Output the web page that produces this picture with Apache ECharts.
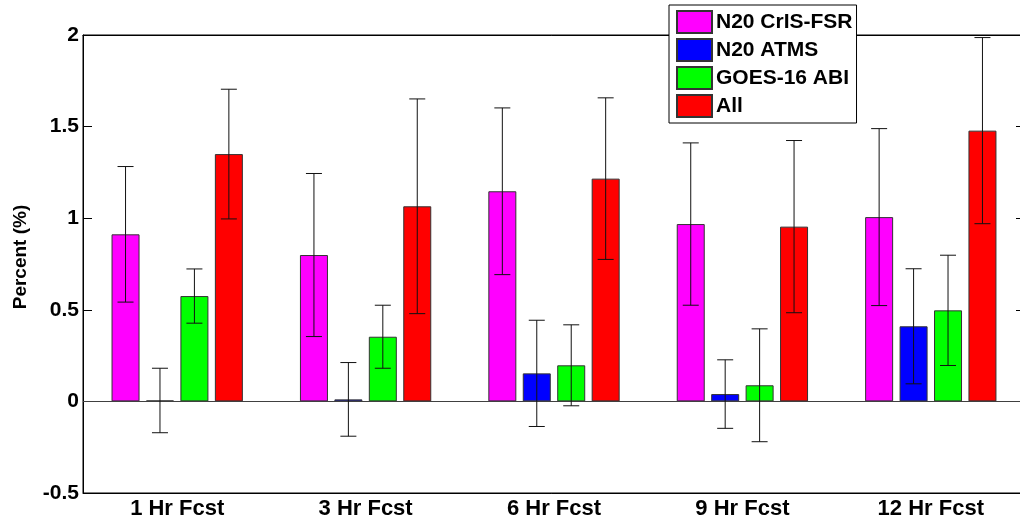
<!DOCTYPE html>
<html>
<head>
<meta charset="utf-8">
<script src="https://cdn.jsdelivr.net/npm/echarts@6/dist/echarts.min.js"></script>
<style>html,body{margin:0;padding:0;background:#fff}#c{width:1020px;height:523px}</style>
</head>
<body>
<div id="c"></div>
<script>
const categories = ['1 Hr Fcst', '3 Hr Fcst', '6 Hr Fcst', '9 Hr Fcst', '12 Hr Fcst'];
const seriesNames = ['N20 CrIS-FSR', 'N20 ATMS', 'GOES-16 ABI', 'All'];
const crisVals  = [0.912, 0.799, 1.147, 0.968, 1.006];
const crisErr   = [0.370, 0.445, 0.455, 0.443, 0.483];
const atmsVals  = [0.005, 0.011, 0.153, 0.040, 0.410];
const atmsErr   = [0.176, 0.201, 0.290, 0.187, 0.314];
const abiVals   = [0.575, 0.353, 0.197, 0.088, 0.497];
const abiErr    = [0.148, 0.172, 0.221, 0.308, 0.301];
const allVals   = [1.350, 1.065, 1.216, 0.954, 1.478];
const allErr    = [0.354, 0.586, 0.441, 0.470, 0.508];
const yTicks = [-0.5, 0, 0.5, 1, 1.5, 2];

const colors = ['#ff00ff', '#0000ff', '#00ff00', '#ff0000'];
const values = [crisVals, atmsVals, abiVals, allVals];
const errs = [crisErr, atmsErr, abiErr, allErr];

const BAR_W = 28;
const GAP = 0.23;
const FONT = 'Arial, "Liberation Sans", Helvetica, sans-serif';

const errData = [];
values.forEach((vals, s) => {
  vals.forEach((v, i) => {
    errData.push([i, s, v - errs[s][i], v + errs[s][i]]);
  });
});

const chart = echarts.init(document.getElementById('c'), null, {renderer: 'canvas'});

const barSeries = seriesNames.map((name, s) => ({
  name: name,
  type: 'bar',
  xAxisIndex: 0,
  yAxisIndex: 0,
  barWidth: BAR_W,
  barGap: (GAP * 100) + '%',
  data: values[s],
  itemStyle: {color: colors[s], borderColor: '#333', borderWidth: 1},
  emphasis: {disabled: true},
  markLine: s === 0 ? {
    silent: true,
    symbol: ['none', 'none'],
    label: {show: false},
    lineStyle: {color: '#404040', width: 1, type: 'solid'},
    data: [{yAxis: 0}]
  } : undefined
}));

const option = {
  animation: false,
  backgroundColor: '#fff',
  grid: {left: 83, top: 35, width: 942, height: 458, outerBoundsMode: 'none', containLabel: false, show: true, borderColor: '#000', borderWidth: 1, backgroundColor: 'transparent'},
  legend: {
    data: seriesNames,
    orient: 'vertical',
    left: 669,
    top: 5,
    itemWidth: 35,
    itemHeight: 22,
    itemGap: 4,
    padding: [5, 4, 5, 7],
    backgroundColor: '#fff',
    borderColor: '#000',
    borderWidth: 1,
    icon: 'rect',
    selectedMode: false,
    textStyle: {fontFamily: FONT, fontWeight: 'bold', fontSize: 21, color: '#000', padding: [0, 0, 0, -1]}
  },
  xAxis: [
    {
      type: 'category',
      data: categories,
      position: 'bottom',
      axisLine: {onZero: false, lineStyle: {color: '#000', width: 1}},
      axisTick: {inside: true, alignWithLabel: true, length: 9, lineStyle: {color: '#000'}},
      axisLabel: {fontFamily: FONT, fontWeight: 'bold', fontSize: 22, color: '#000', margin: 5},
      splitLine: {show: false}
    },
    {
      type: 'category',
      data: categories,
      position: 'top',
      axisLine: {onZero: false, lineStyle: {color: '#000', width: 1}},
      axisTick: {inside: true, alignWithLabel: true, length: 9, lineStyle: {color: '#000'}},
      axisLabel: {show: false},
      splitLine: {show: false}
    }
  ],
  yAxis: [
    {
      type: 'value',
      min: yTicks[0],
      max: yTicks[yTicks.length - 1],
      interval: 0.5,
      position: 'left',
      axisLine: {show: true, onZero: false, lineStyle: {color: '#000', width: 1}},
      axisTick: {show: true, inside: true, length: 9, lineStyle: {color: '#000'}},
      axisLabel: {fontFamily: FONT, fontWeight: 'bold', fontSize: 21, color: '#000', margin: 4},
      splitLine: {show: false}
    },
    {
      type: 'value',
      min: yTicks[0],
      max: yTicks[yTicks.length - 1],
      interval: 0.5,
      position: 'right',
      axisLine: {show: true, onZero: false, lineStyle: {color: '#000', width: 1}},
      axisTick: {show: true, inside: true, length: 9, lineStyle: {color: '#000'}},
      axisLabel: {show: false},
      splitLine: {show: false}
    }
  ],
  graphic: [{
    type: 'text',
    x: 21,
    y: 257,
    rotation: Math.PI / 2,
    style: {text: 'Percent (%)', fontFamily: FONT, fontWeight: 'bold', fontSize: 19, fill: '#000', align: 'center', verticalAlign: 'middle'}
  }],
  series: barSeries.concat([{
    type: 'custom',
    name: 'err',
    xAxisIndex: 0,
    yAxisIndex: 0,
    data: errData,
    z: 5,
    silent: true,
    renderItem: function (params, api) {
      const cat = api.value(0);
      const s = api.value(1);
      const step = BAR_W * (1 + GAP);
      const cx = api.coord([cat, 0])[0] + (s - 1.5) * step;
      const yLo = api.coord([cat, api.value(2)])[1];
      const yHi = api.coord([cat, api.value(3)])[1];
      const hw = 8;
      const st = {stroke: '#111', lineWidth: 1, fill: null};
      return {
        type: 'group',
        children: [
          {type: 'line', shape: {x1: cx, y1: yLo, x2: cx, y2: yHi}, style: st},
          {type: 'line', shape: {x1: cx - hw, y1: yLo, x2: cx + hw, y2: yLo}, style: st},
          {type: 'line', shape: {x1: cx - hw, y1: yHi, x2: cx + hw, y2: yHi}, style: st}
        ]
      };
    }
  }])
};

chart.setOption(option);
</script>
</body>
</html>
